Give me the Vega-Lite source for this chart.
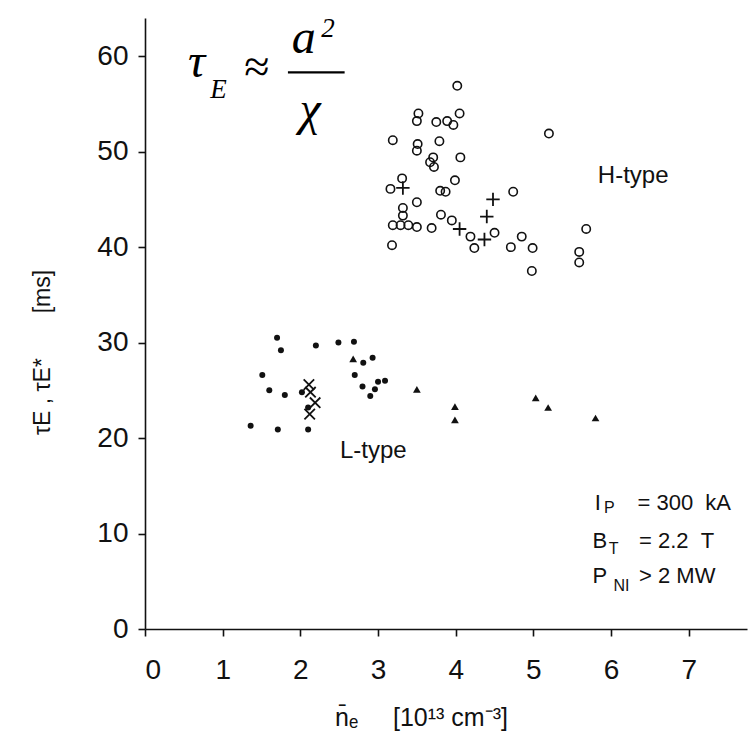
{
  "$schema": "https://vega.github.io/schema/vega-lite/v6.json",
  "width": 602,
  "height": 611,
  "autosize": {"type": "none"},
  "padding": {"left": 145, "top": 18, "right": 5, "bottom": 120},
  "background": "white",
  "datasets": {
    "points": [
      {"series": "H", "ne": 4.02, "tau": 56.9}, {"series": "H", "ne": 3.52, "tau": 54.0}, {"series": "H", "ne": 3.50, "tau": 53.2},
      {"series": "H", "ne": 4.05, "tau": 54.0}, {"series": "H", "ne": 3.75, "tau": 53.1}, {"series": "H", "ne": 3.89, "tau": 53.2},
      {"series": "H", "ne": 3.97, "tau": 52.8}, {"series": "H", "ne": 5.20, "tau": 51.9}, {"series": "H", "ne": 3.19, "tau": 51.2},
      {"series": "H", "ne": 3.51, "tau": 50.8}, {"series": "H", "ne": 3.50, "tau": 50.1}, {"series": "H", "ne": 3.79, "tau": 51.1},
      {"series": "H", "ne": 3.71, "tau": 49.4}, {"series": "H", "ne": 3.67, "tau": 48.9}, {"series": "H", "ne": 3.72, "tau": 48.4},
      {"series": "H", "ne": 4.06, "tau": 49.4}, {"series": "H", "ne": 3.31, "tau": 47.2}, {"series": "H", "ne": 3.16, "tau": 46.1},
      {"series": "H", "ne": 3.99, "tau": 47.0}, {"series": "H", "ne": 3.80, "tau": 45.9}, {"series": "H", "ne": 3.87, "tau": 45.8},
      {"series": "H", "ne": 3.50, "tau": 44.7}, {"series": "H", "ne": 4.74, "tau": 45.8}, {"series": "H", "ne": 3.32, "tau": 44.1},
      {"series": "H", "ne": 3.32, "tau": 43.3}, {"series": "H", "ne": 3.81, "tau": 43.4}, {"series": "H", "ne": 3.95, "tau": 42.8},
      {"series": "H", "ne": 3.19, "tau": 42.3}, {"series": "H", "ne": 3.29, "tau": 42.3}, {"series": "H", "ne": 3.39, "tau": 42.3},
      {"series": "H", "ne": 3.50, "tau": 42.1}, {"series": "H", "ne": 3.69, "tau": 42.0}, {"series": "H", "ne": 4.19, "tau": 41.1},
      {"series": "H", "ne": 4.50, "tau": 41.5}, {"series": "H", "ne": 4.85, "tau": 41.1}, {"series": "H", "ne": 4.24, "tau": 39.9},
      {"series": "H", "ne": 4.71, "tau": 40.0}, {"series": "H", "ne": 4.99, "tau": 39.9}, {"series": "H", "ne": 3.18, "tau": 40.2},
      {"series": "H", "ne": 5.68, "tau": 41.9}, {"series": "H", "ne": 5.59, "tau": 39.5}, {"series": "H", "ne": 5.59, "tau": 38.4},
      {"series": "H", "ne": 4.98, "tau": 37.5},
      {"series": "Hstar", "ne": 3.32, "tau": 46.2}, {"series": "Hstar", "ne": 4.48, "tau": 45.0}, {"series": "Hstar", "ne": 4.40, "tau": 43.2},
      {"series": "Hstar", "ne": 4.05, "tau": 41.9}, {"series": "Hstar", "ne": 4.37, "tau": 40.8},
      {"series": "L", "ne": 1.70, "tau": 30.5}, {"series": "L", "ne": 1.75, "tau": 29.2}, {"series": "L", "ne": 2.20, "tau": 29.7},
      {"series": "L", "ne": 2.49, "tau": 30.0}, {"series": "L", "ne": 2.69, "tau": 30.1}, {"series": "L", "ne": 2.81, "tau": 27.9},
      {"series": "L", "ne": 2.93, "tau": 28.4}, {"series": "L", "ne": 1.51, "tau": 26.6}, {"series": "L", "ne": 2.70, "tau": 26.6},
      {"series": "L", "ne": 1.60, "tau": 25.0}, {"series": "L", "ne": 1.80, "tau": 24.5}, {"series": "L", "ne": 2.02, "tau": 24.8},
      {"series": "L", "ne": 2.80, "tau": 25.4}, {"series": "L", "ne": 3.00, "tau": 25.9}, {"series": "L", "ne": 3.09, "tau": 26.0},
      {"series": "L", "ne": 2.96, "tau": 25.1}, {"series": "L", "ne": 2.90, "tau": 24.4}, {"series": "L", "ne": 2.10, "tau": 23.2},
      {"series": "L", "ne": 1.36, "tau": 21.3}, {"series": "L", "ne": 1.71, "tau": 20.9}, {"series": "L", "ne": 2.10, "tau": 20.9},
      {"series": "Lstar", "ne": 2.11, "tau": 25.6}, {"series": "Lstar", "ne": 2.13, "tau": 24.8}, {"series": "Lstar", "ne": 2.19, "tau": 23.7},
      {"series": "Lstar", "ne": 2.12, "tau": 22.5},
      {"series": "Ltri", "ne": 2.68, "tau": 28.3}, {"series": "Ltri", "ne": 3.50, "tau": 25.1}, {"series": "Ltri", "ne": 3.99, "tau": 23.3},
      {"series": "Ltri", "ne": 3.99, "tau": 21.9}, {"series": "Ltri", "ne": 5.03, "tau": 24.2}, {"series": "Ltri", "ne": 5.19, "tau": 23.2},
      {"series": "Ltri", "ne": 5.80, "tau": 22.1}
    ],
    "labels": [
      {"text": "H-type", "ne": 5.83, "tau": 46.7},
      {"text": "L-type", "ne": 2.51, "tau": 17.9}
    ],
    "params": [
      {"text": "I", "ne": 5.79, "tau": 12.46},
      {"text": "= 300\u00a0\u00a0kA", "ne": 6.34, "tau": 12.46},
      {"text": "B", "ne": 5.76, "tau": 8.5},
      {"text": "= 2.2\u00a0\u00a0T", "ne": 6.36, "tau": 8.5},
      {"text": "P", "ne": 5.76, "tau": 4.8},
      {"text": "> 2 MW", "ne": 6.36, "tau": 4.8}
    ],
    "paramsub": [
      {"text": "P", "ne": 5.91, "tau": 12.1},
      {"text": "T", "ne": 5.97, "tau": 7.9},
      {"text": "NI", "ne": 6.03, "tau": 3.95}
    ],
    "formulaBig": [
      {"text": "τ", "ne": 0.553, "tau": 57.8},
      {"text": "a", "ne": 1.89, "tau": 60.3},
      {"text": "χ", "ne": 1.99, "tau": 52.8}
    ],
    "formulaSmall": [
      {"text": "E", "ne": 0.84, "tau": 55.6},
      {"text": "2", "ne": 2.27, "tau": 62.0}
    ],
    "formulaOp": [
      {"text": "≈", "ne": 1.44, "tau": 57.3}
    ],
    "formulaBar": [
      {"ne": 1.84, "ne2": 2.57, "tau": 58.3}
    ]
  },
  "data": {"name": "points"},
  "layer": [
    {
      "transform": [{"filter": "datum.series === 'H'"}],
      "mark": {"type": "point", "shape": "circle", "filled": false, "stroke": "#111", "strokeWidth": 1.6, "size": 70, "opacity": 1},
      "encoding": {
        "x": {"field": "ne", "type": "quantitative", "scale": {"domain": [0, 7.75], "nice": false, "zero": true},
          "axis": {"values": [0, 1, 2, 3, 4, 5, 6, 7], "format": "d", "title": "n̄ₑ\u00a0\u00a0\u00a0\u00a0\u00a0[10¹³\u00a0cm⁻³]", "titleFontSize": 25, "titleX": 276, "titleY": 88, "titleAlign": "center", "titleBaseline": "middle", "labelPadding": 20}},
        "y": {"field": "tau", "type": "quantitative", "scale": {"domain": [0, 64], "nice": false},
          "axis": {"values": [0, 10, 20, 30, 40, 50, 60], "format": "d", "title": "τE\u00a0,\u00a0τE*\u00a0\u00a0\u00a0\u00a0\u00a0\u00a0\u00a0[ms]", "titleX": -103, "titleY": 334, "titleAlign": "center", "titleBaseline": "middle", "titleAngle": -90, "labelPadding": 10}}
      }
    },
    {
      "transform": [{"filter": "datum.series === 'Hstar'"}],
      "mark": {"type": "point", "shape": "M-1,0L1,0M0,-1L0,1", "filled": false, "stroke": "#111", "strokeWidth": 1.8, "size": 180, "opacity": 1},
      "encoding": {"x": {"field": "ne", "type": "quantitative"}, "y": {"field": "tau", "type": "quantitative"}}
    },
    {
      "transform": [{"filter": "datum.series === 'L'"}],
      "mark": {"type": "point", "shape": "circle", "filled": true, "fill": "#111", "size": 36, "opacity": 1},
      "encoding": {"x": {"field": "ne", "type": "quantitative"}, "y": {"field": "tau", "type": "quantitative"}}
    },
    {
      "transform": [{"filter": "datum.series === 'Lstar'"}],
      "mark": {"type": "point", "shape": "M-1,-1L1,1M-1,1L1,-1", "filled": false, "stroke": "#111", "strokeWidth": 1.8, "size": 110, "opacity": 1},
      "encoding": {"x": {"field": "ne", "type": "quantitative"}, "y": {"field": "tau", "type": "quantitative"}}
    },
    {
      "transform": [{"filter": "datum.series === 'Ltri'"}],
      "mark": {"type": "point", "shape": "triangle-up", "filled": true, "fill": "#111", "size": 60, "opacity": 1},
      "encoding": {"x": {"field": "ne", "type": "quantitative"}, "y": {"field": "tau", "type": "quantitative"}}
    },
    {
      "data": {"name": "labels"},
      "mark": {"type": "text", "align": "left", "baseline": "alphabetic", "font": "Liberation Sans", "fontSize": 24, "fill": "#111"},
      "encoding": {"x": {"field": "ne", "type": "quantitative"}, "y": {"field": "tau", "type": "quantitative"}, "text": {"field": "text"}}
    },
    {
      "data": {"name": "params"},
      "mark": {"type": "text", "align": "left", "baseline": "alphabetic", "font": "Liberation Sans", "fontSize": 22, "fill": "#111"},
      "encoding": {"x": {"field": "ne", "type": "quantitative"}, "y": {"field": "tau", "type": "quantitative"}, "text": {"field": "text"}}
    },
    {
      "data": {"name": "paramsub"},
      "mark": {"type": "text", "align": "left", "baseline": "alphabetic", "font": "Liberation Sans", "fontSize": 16, "fill": "#111"},
      "encoding": {"x": {"field": "ne", "type": "quantitative"}, "y": {"field": "tau", "type": "quantitative"}, "text": {"field": "text"}}
    },
    {
      "data": {"name": "formulaBig"},
      "mark": {"type": "text", "align": "left", "baseline": "alphabetic", "font": "Liberation Serif", "fontStyle": "italic", "fontSize": 48, "fill": "#000"},
      "encoding": {"x": {"field": "ne", "type": "quantitative"}, "y": {"field": "tau", "type": "quantitative"}, "text": {"field": "text"}}
    },
    {
      "data": {"name": "formulaSmall"},
      "mark": {"type": "text", "align": "left", "baseline": "alphabetic", "font": "Liberation Serif", "fontStyle": "italic", "fontSize": 27, "fill": "#000"},
      "encoding": {"x": {"field": "ne", "type": "quantitative"}, "y": {"field": "tau", "type": "quantitative"}, "text": {"field": "text"}}
    },
    {
      "data": {"name": "formulaOp"},
      "mark": {"type": "text", "align": "center", "baseline": "alphabetic", "font": "Liberation Serif", "fontSize": 46, "fill": "#000"},
      "encoding": {"x": {"field": "ne", "type": "quantitative"}, "y": {"field": "tau", "type": "quantitative"}, "text": {"field": "text"}}
    },
    {
      "data": {"name": "formulaBar"},
      "mark": {"type": "rule", "stroke": "#000", "strokeWidth": 2.2},
      "encoding": {"x": {"field": "ne", "type": "quantitative"}, "x2": {"field": "ne2"}, "y": {"field": "tau", "type": "quantitative"}}
    }
  ],
  "config": {
    "view": {"stroke": null},
    "axis": {
      "grid": false,
      "domainColor": "#111",
      "domainWidth": 1.6,
      "tickColor": "#111",
      "tickWidth": 1.6,
      "tickSize": 7,
      "labelFont": "Liberation Sans",
      "labelFontSize": 28,
      "labelColor": "#111",
      "titleFont": "Liberation Sans",
      "titleFontSize": 23,
      "titleFontWeight": "normal",
      "titleColor": "#111"
    }
  }
}
